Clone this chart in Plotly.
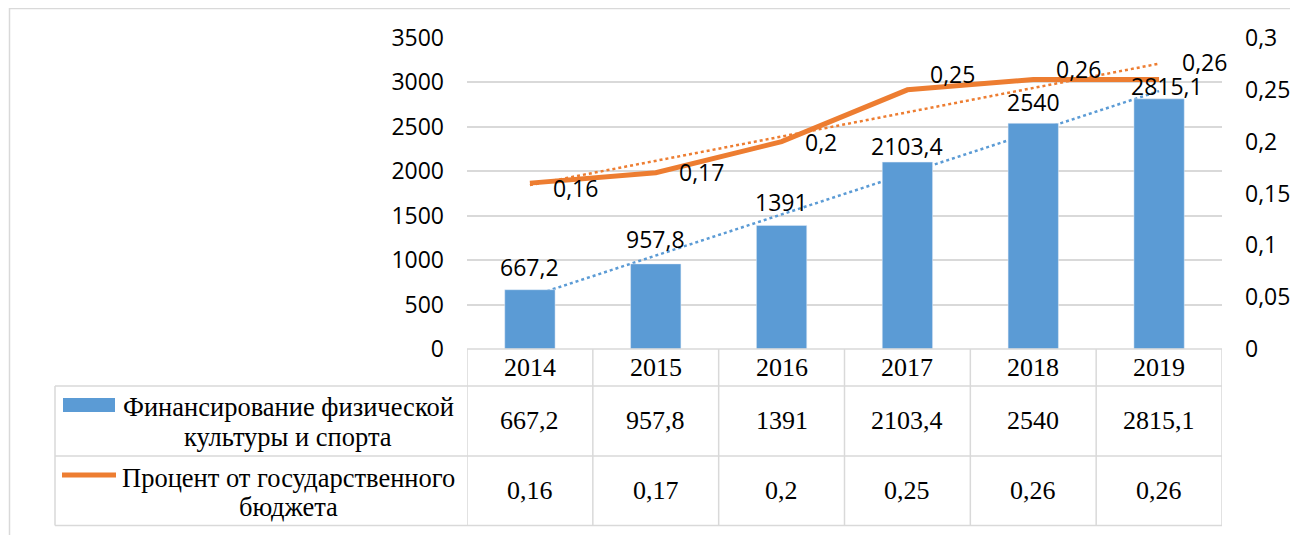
import numpy as np
import plotly.graph_objects as go

# ---------------- data ----------------
years = ["2014", "2015", "2016", "2017", "2018", "2019"]
funding = [667.2, 957.8, 1391, 2103.4, 2540, 2815.1]
budget_pct = [0.16, 0.17, 0.2, 0.25, 0.26, 0.26]
left_tickvals = [0, 500, 1000, 1500, 2000, 2500, 3000, 3500]
right_tickvals = [0, 0.05, 0.1, 0.15, 0.2, 0.25, 0.3]
right_ticktext = ["0", "0,05", "0,1", "0,15", "0,2", "0,25", "0,3"]
funding_name_lines = ["Финансирование физической", "культуры и спорта"]
pct_name_lines = ["Процент от государственного", "бюджета"]

# ---------------- style ----------------
BLUE = "#5B9BD5"
ORANGE = "#ED7D31"
GRID = "#D9D9D9"
TXT = "#000000"
SANS = "Open Sans"
SERIF = "Liberation Serif"

OFF = 8                      # page body margin of the html output
W, H = 1298 - OFF, 535 - OFF
# plot area in screen pixels
SL, SR, ST, SB = 467, 1222, 38, 349
PL, PR, PT, PB = SL - OFF, SR - OFF, ST - OFF, SB - OFF


def py(p):  # screen y -> paper
    return (SB - p) / (SB - ST)


def px(p):  # screen x -> paper
    return (p - SL) / (SR - SL)


def fmt(v):
    return f"{v:g}".replace(".", ",")


# linear trendlines (as Excel draws them)
idx = np.arange(len(years))
fb = np.polyfit(idx, funding, 1)
fp = np.polyfit(idx, budget_pct, 1)
ends = np.array([idx[0], idx[-1]])

fig = go.Figure()

fig.add_trace(go.Bar(
    x=years, y=funding, marker_color=BLUE, width=0.4, zorder=1,
    name=" ".join(funding_name_lines), showlegend=False))
fig.add_trace(go.Scatter(
    x=[years[0], years[-1]], y=np.polyval(fb, ends), mode="lines",
    line=dict(color=BLUE, width=2.5, dash="dot"), zorder=0,
    hoverinfo="skip", showlegend=False, cliponaxis=False))
fig.add_trace(go.Scatter(
    x=[years[0], years[-1]], y=np.polyval(fp, ends), mode="lines", yaxis="y2",
    line=dict(color=ORANGE, width=2.5, dash="dot"),
    hoverinfo="skip", showlegend=False, cliponaxis=False))
fig.add_trace(go.Scatter(
    x=years, y=budget_pct, mode="lines", yaxis="y2",
    line=dict(color=ORANGE, width=5), name=" ".join(pct_name_lines),
    showlegend=False, cliponaxis=False))

annotations = []
# bar value labels
bar_gap = [12, 14, 12, 5, 10, 2]
bar_dx = [0, 0, 0, 0, 0, 8]
for i, v in enumerate(funding):
    annotations.append(dict(
        x=i, y=v, xref="x", yref="y", text=fmt(v), showarrow=False,
        xanchor="center", yanchor="bottom", xshift=bar_dx[i], yshift=bar_gap[i] - 7,
        font=dict(family=SANS, size=23, color=TXT)))
# percentage labels
pct_dy = [6, 0, 1, -15, -9.5, -16]
for i, v in enumerate(budget_pct):
    annotations.append(dict(
        x=i, y=v, xref="x", yref="y2", text=fmt(v), showarrow=False,
        xanchor="left", yanchor="middle", xshift=21, yshift=-pct_dy[i] + 1,
        font=dict(family=SANS, size=23, color=TXT)))

# data table below the chart
for i, (yr, v, p) in enumerate(zip(years, funding, budget_pct)):
    for txt, yy in ((yr, 367), (fmt(v), 421), (fmt(p), 491)):
        annotations.append(dict(
            x=i, y=py(yy), xref="x", yref="paper", text=txt, showarrow=False,
            xanchor="center", yanchor="middle",
            font=dict(family=SERIF, size=26, color=TXT)))
for txt, yy in ((funding_name_lines[0], 407), (funding_name_lines[1], 437),
                (pct_name_lines[0], 478), (pct_name_lines[1], 507)):
    annotations.append(dict(
        x=px(288), y=py(yy), xref="paper", yref="paper", text=txt, showarrow=False,
        xanchor="center", yanchor="middle",
        font=dict(family=SERIF, size=26.5, color=TXT)))

shapes = []
# chart area border
shapes.append(dict(type="rect", xref="paper", yref="paper",
                   x0=px(9.5), x1=px(1320), y0=py(8.5), y1=py(560),
                   line=dict(color=GRID, width=1.5), layer="below"))
# table horizontal lines
shapes.append(dict(type="line", xref="paper", yref="paper", x0=0, x1=1, y0=0, y1=0,
                   line=dict(color=GRID, width=1.5)))
for yy in (386, 456, 525.5):
    shapes.append(dict(type="line", xref="paper", yref="paper",
                       x0=px(55), x1=1, y0=py(yy), y1=py(yy),
                       line=dict(color=GRID, width=1.5)))
# table vertical lines
shapes.append(dict(type="line", xref="paper", yref="paper",
                   x0=px(55), x1=px(55), y0=py(386), y1=py(525.5),
                   line=dict(color=GRID, width=1.5)))
for k in range(len(years) + 1):
    shapes.append(dict(type="line", xref="x", yref="paper",
                       x0=k - 0.5, x1=k - 0.5, y0=0, y1=py(525.5),
                       line=dict(color=GRID, width=1.5)))
# legend keys inside table
shapes.append(dict(type="rect", xref="paper", yref="paper",
                   x0=px(63), x1=px(115), y0=py(412), y1=py(398),
                   line=dict(width=0), fillcolor=BLUE))
shapes.append(dict(type="line", xref="paper", yref="paper",
                   x0=px(62), x1=px(116), y0=py(475), y1=py(475),
                   line=dict(color=ORANGE, width=5)))

fig.update_layout(
    width=W, height=H, autosize=False,
    margin=dict(l=PL, r=W - PR, t=PT, b=H - PB, pad=0, autoexpand=False),
    paper_bgcolor="white", plot_bgcolor="white",
    xaxis=dict(type="category", categoryorder="array", categoryarray=years,
               range=[-0.5, len(years) - 0.5], automargin=False,
               showticklabels=False, showgrid=False, zeroline=False, showline=False,
               fixedrange=True),
    yaxis=dict(range=[0, 3500], tickvals=left_tickvals, showgrid=True,
               gridcolor=GRID, gridwidth=1.5, zeroline=False, showline=False,
               ticks="", ticklabelstandoff=22, automargin=False,
               tickfont=dict(family=SANS, size=23, color=TXT)),
    yaxis2=dict(range=[0, 0.3], overlaying="y", side="right",
                tickvals=right_tickvals, ticktext=right_ticktext,
                showgrid=False, zeroline=False, showline=False, ticks="",
                ticklabelstandoff=22, automargin=False,
                tickfont=dict(family=SANS, size=23, color=TXT)),
    annotations=annotations, shapes=shapes, showlegend=False,
)

fig.write_html("out.html")
